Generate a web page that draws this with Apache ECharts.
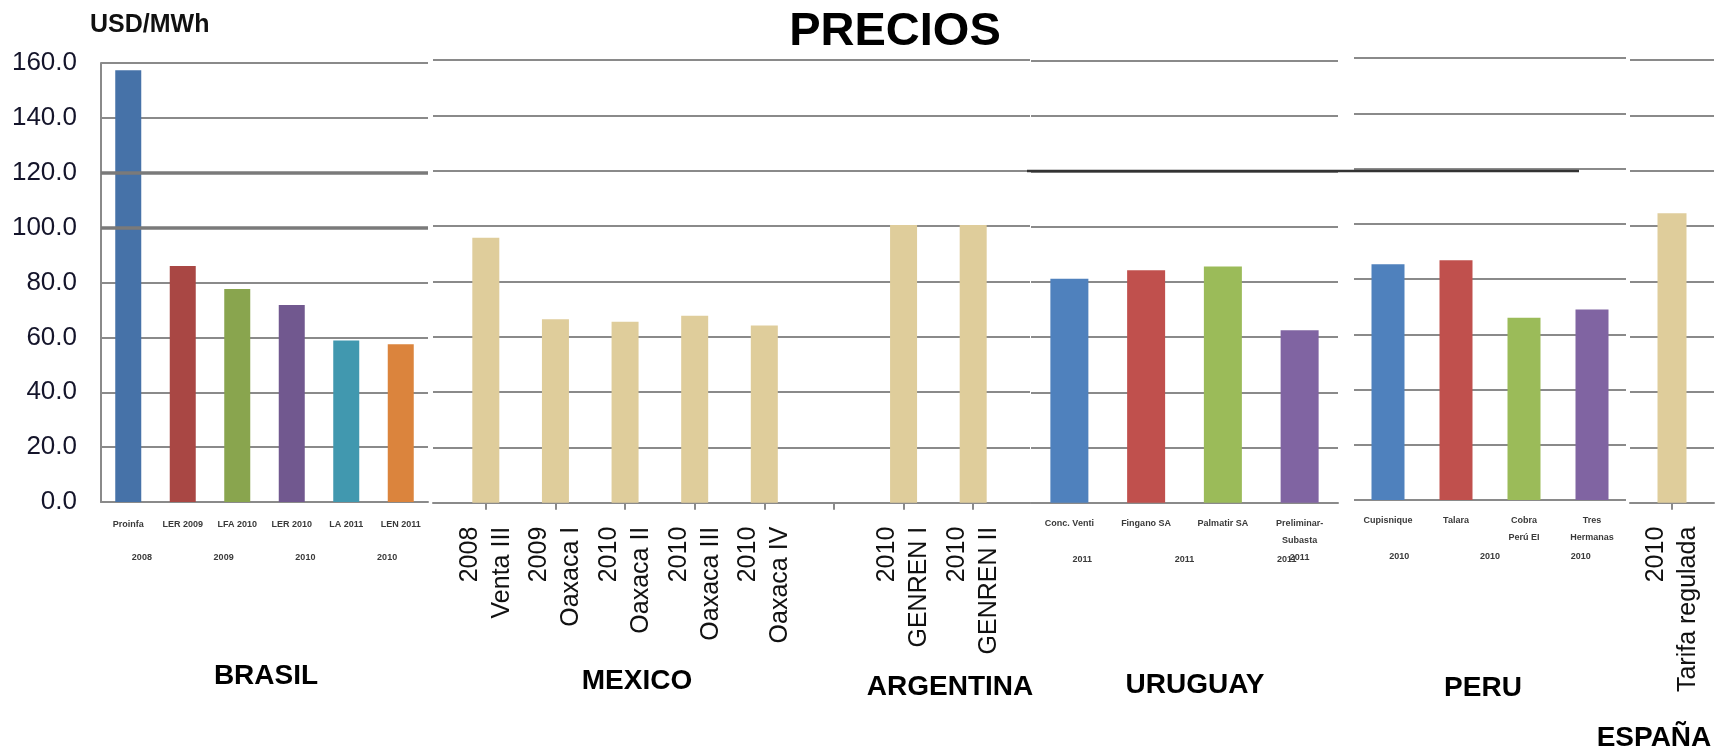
<!DOCTYPE html>
<html>
<head>
<meta charset="utf-8">
<script src="https://cdn.jsdelivr.net/npm/echarts@6/dist/echarts.min.js"></script>
<style>
html,body{margin:0;padding:0;background:#fff;}
#c{width:1718px;height:753px;}
</style>
</head>
<body>
<div id="c"></div>
<script>
// ---------- data ----------
const yMin = 0, yMax = 160, yStep = 20;

const brasilCats   = ['Proinfa', 'LER 2009', 'LFA 2010', 'LER 2010', 'LA 2011', 'LEN 2011'];
const brasilYears  = ['2008', '2009', '2010', '2010'];
const brasilValues = [157.4, 86.0, 77.6, 71.8, 58.9, 57.5];

const mexArgCats   = ['2008\nVenta III', '2009\nOaxaca I', '2010\nOaxaca II', '2010\nOaxaca III', '2010\nOaxaca IV', '', '2010\nGENREN I', '2010\nGENREN II'];
const mexArgValues = [95.8, 66.3, 65.4, 67.6, 64.0, null, 100.4, 100.4];

const uruguayCats   = ['Conc. Venti', 'Fingano SA', 'Palmatir SA', 'Preliminar-\nSubasta\n2011'];
const uruguayYears  = ['2011', '2011', '2011'];
const uruguayValues = [81.1, 84.2, 85.6, 62.5];

const peruCats   = ['Cupisnique', 'Talara', 'Cobra\nPerú EI', 'Tres\nHermanas'];
const peruYears  = ['2010', '2010', '2010'];
const peruValues = [85.3, 86.8, 66.0, 69.0];

const spainCats   = ['2010\nTarifa regulada'];
const spainValues = [104.6];

const countries = ['BRASIL', 'MEXICO', 'ARGENTINA', 'URUGUAY', 'PERU', 'ESPAÑA'];

// ---------- styles ----------
const brasilColors = ['#4672a8', '#a94744', '#89a54e', '#71588f', '#4198af', '#db843d'];
const fourColors   = ['#4f81bd', '#c0504d', '#9bbb59', '#8064a2'];
const tan = '#dfcd9b';
const gridGray = '#8a8a8a';
const FONT = 'Liberation Sans, Arial, sans-serif';

const chart = echarts.init(document.getElementById('c'));

function yAx(gridIndex, extra) {
  return Object.assign({
    type: 'value', gridIndex, min: yMin, max: yMax, interval: yStep,
    axisLine: {show: false}, axisTick: {show: false}, axisLabel: {show: false},
    splitLine: {show: true, lineStyle: {color: gridGray, width: 2}}
  }, extra || {});
}
function smallX(gridIndex, data, margin, showLine) {
  return {
    type: 'category', gridIndex, data, position: 'bottom',
    axisLine: {show: !!showLine, lineStyle: {color: gridGray, width: 2}},
    axisTick: {show: false},
    axisLabel: {interval: 0, margin, fontSize: 9, fontWeight: 'bold', color: '#3a3a3a', fontFamily: FONT, lineHeight: 17}
  };
}
function rotX(gridIndex, data, showLine) {
  return {
    type: 'category', gridIndex, data, position: 'bottom',
    axisLine: {show: !!showLine, lineStyle: {color: gridGray, width: 2}},
    axisTick: {show: true, alignWithLabel: true, length: 7, lineStyle: {color: gridGray, width: 2}},
    axisLabel: {interval: 0, rotate: 90, margin: 24, fontSize: 25, color: '#111', fontFamily: FONT, lineHeight: 32}
  };
}
function coloredData(vals, cols) {
  return vals.map((v, i) => ({value: v, itemStyle: {color: cols[i % cols.length]}}));
}

const labelPos = [
  {x: 266, y: 676}, {x: 637, y: 681}, {x: 950, y: 687},
  {x: 1195, y: 685}, {x: 1483, y: 688}, {x: 1654, y: 738}
];

const option = {
  backgroundColor: '#fff',
  animation: false,
  title: {
    text: 'PRECIOS', left: 890, top: 4, textAlign: 'center',
    textStyle: {fontSize: 47, fontWeight: 'bold', color: '#000', fontFamily: FONT}
  },
  grid: [
    {left: 101, top: 63, width: 327, height: 439},
    {left: 433, top: 60, width: 597, height: 442.7},
    {left: 451, top: 60, width: 557, height: 442.7},
    {left: 1031, top: 61, width: 307, height: 441.7},
    {left: 1354, top: 58, width: 272, height: 442},
    {left: 1630, top: 60, width: 84, height: 442.7}
  ],
  xAxis: [
    smallX(0, brasilCats, 14, true),
    smallX(0, brasilYears, 47, false),
    {type: 'category', gridIndex: 1, data: [''], position: 'bottom',
     axisLine: {show: true, lineStyle: {color: gridGray, width: 2}},
     axisTick: {show: false}, axisLabel: {show: false}},
    rotX(2, mexArgCats, false),
    smallX(3, uruguayCats, 12, true),
    smallX(3, uruguayYears, 48, false),
    smallX(4, peruCats, 12, false),
    smallX(4, peruYears, 48, false),
    rotX(5, spainCats, true)
  ],
  yAxis: [
    yAx(0, {
      axisLine: {show: true, lineStyle: {color: gridGray, width: 2}},
      axisLabel: {show: true, margin: 24, fontSize: 26, color: '#14142a', fontFamily: FONT,
                  formatter: v => v.toFixed(1)}
    }),
    yAx(1),
    yAx(2, {show: false, splitLine: {show: false}}),
    yAx(3),
    yAx(4),
    yAx(5)
  ],
  series: [
    {type: 'bar', xAxisIndex: 0, yAxisIndex: 0, barWidth: 26, data: coloredData(brasilValues, brasilColors),
     markLine: {silent: true, symbol: 'none', label: {show: false},
                lineStyle: {color: '#7a7a7a', width: 3.5, type: 'solid'},
                data: [{yAxis: 100}, {yAxis: 120}]}},
    {type: 'bar', xAxisIndex: 3, yAxisIndex: 2, barWidth: 27, itemStyle: {color: tan}, data: mexArgValues},
    {type: 'bar', xAxisIndex: 4, yAxisIndex: 3, barWidth: 38, data: coloredData(uruguayValues, fourColors)},
    {type: 'bar', xAxisIndex: 6, yAxisIndex: 4, barWidth: 33, data: coloredData(peruValues, fourColors)},
    {type: 'bar', xAxisIndex: 8, yAxisIndex: 5, barWidth: 29, itemStyle: {color: tan}, data: spainValues}
  ],
  graphic: [
    {type: 'text', left: 90, top: 13,
     style: {text: 'USD/MWh', fontSize: 25, fontWeight: 'bold', fill: '#111', fontFamily: FONT}},
    {type: 'line', shape: {x1: 1027, y1: 171, x2: 1579, y2: 171}, style: {stroke: '#333', lineWidth: 2.5}, z: 10}
  ].concat(countries.map((c, i) => ({
    type: 'text', x: labelPos[i].x, y: labelPos[i].y,
    style: {text: c, fontSize: 28, fontWeight: 'bold', fill: '#000', fontFamily: FONT,
            align: 'center', verticalAlign: 'middle'}
  })))
};
chart.setOption(option);
</script>
</body>
</html>
